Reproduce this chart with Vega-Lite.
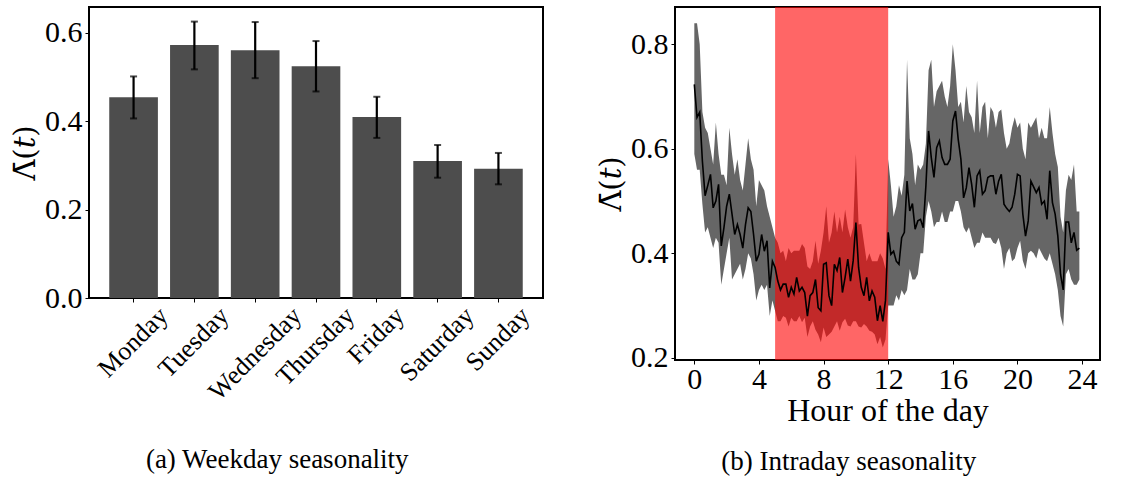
{
  "$schema": "https://vega.github.io/schema/vega-lite/v6.json",
  "padding": {"left": 10, "top": 6, "right": 5, "bottom": 0},
  "background": "white",
  "bounds": "flush",
  "spacing": 132,
  "config": {
    "font": "Liberation Serif",
    "view": {"stroke": "black", "strokeWidth": 2},
    "axis": {"grid": false, "domain": false, "tickColor": "black", "tickSize": 4, "tickWidth": 1,
      "labelColor": "black", "titleColor": "black", "labelFont": "Liberation Serif", "titleFont": "Liberation Serif",
      "titleFontWeight": "normal", "labelFontSize": 30, "titleFontSize": 32},
    "title": {"font": "Liberation Serif", "fontSize": 27, "fontWeight": "normal", "color": "black"}
  },
  "datasets": {
    "weekday": [
      {"day": "Monday", "v": 0.454, "lo": 0.406, "hi": 0.501},
      {"day": "Tuesday", "v": 0.572, "lo": 0.517, "hi": 0.625},
      {"day": "Wednesday", "v": 0.560, "lo": 0.497, "hi": 0.624},
      {"day": "Thursday", "v": 0.524, "lo": 0.467, "hi": 0.581},
      {"day": "Friday", "v": 0.409, "lo": 0.362, "hi": 0.455},
      {"day": "Saturday", "v": 0.310, "lo": 0.272, "hi": 0.346},
      {"day": "Sunday", "v": 0.292, "lo": 0.257, "hi": 0.328}
    ],
    "intraday": [
      {"h": 0, "m": 0.723, "lo": 0.59, "hi": 0.84},
      {"h": 0.1667, "m": 0.66, "lo": 0.56, "hi": 0.84},
      {"h": 0.3333, "m": 0.67, "lo": 0.56, "hi": 0.8},
      {"h": 0.5, "m": 0.576, "lo": 0.494, "hi": 0.67},
      {"h": 0.6667, "m": 0.51, "lo": 0.44, "hi": 0.64},
      {"h": 0.8333, "m": 0.53, "lo": 0.45, "hi": 0.63},
      {"h": 1.0, "m": 0.551, "lo": 0.43, "hi": 0.6},
      {"h": 1.1667, "m": 0.487, "lo": 0.41, "hi": 0.57},
      {"h": 1.3333, "m": 0.5, "lo": 0.43, "hi": 0.65},
      {"h": 1.5, "m": 0.532, "lo": 0.42, "hi": 0.59},
      {"h": 1.6667, "m": 0.414, "lo": 0.34, "hi": 0.55},
      {"h": 1.8333, "m": 0.449, "lo": 0.37, "hi": 0.55},
      {"h": 2.0, "m": 0.49, "lo": 0.4, "hi": 0.53},
      {"h": 2.1667, "m": 0.513, "lo": 0.43, "hi": 0.64},
      {"h": 2.3333, "m": 0.475, "lo": 0.35, "hi": 0.59},
      {"h": 2.5, "m": 0.436, "lo": 0.36, "hi": 0.55},
      {"h": 2.6667, "m": 0.455, "lo": 0.37, "hi": 0.58},
      {"h": 2.8333, "m": 0.436, "lo": 0.38, "hi": 0.54},
      {"h": 3.0, "m": 0.41, "lo": 0.35, "hi": 0.52},
      {"h": 3.1667, "m": 0.455, "lo": 0.37, "hi": 0.57},
      {"h": 3.3333, "m": 0.487, "lo": 0.4, "hi": 0.62},
      {"h": 3.5, "m": 0.48, "lo": 0.39, "hi": 0.58},
      {"h": 3.6667, "m": 0.436, "lo": 0.36, "hi": 0.56},
      {"h": 3.8333, "m": 0.385, "lo": 0.31, "hi": 0.49},
      {"h": 4.0, "m": 0.398, "lo": 0.33, "hi": 0.54},
      {"h": 4.1667, "m": 0.436, "lo": 0.34, "hi": 0.53},
      {"h": 4.3333, "m": 0.404, "lo": 0.33, "hi": 0.52},
      {"h": 4.5, "m": 0.424, "lo": 0.34, "hi": 0.49},
      {"h": 4.6667, "m": 0.334, "lo": 0.28, "hi": 0.47},
      {"h": 4.8333, "m": 0.385, "lo": 0.31, "hi": 0.45},
      {"h": 5.0, "m": 0.373, "lo": 0.29, "hi": 0.43},
      {"h": 5.1667, "m": 0.347, "lo": 0.27, "hi": 0.42},
      {"h": 5.3333, "m": 0.33, "lo": 0.27, "hi": 0.4},
      {"h": 5.5, "m": 0.341, "lo": 0.28, "hi": 0.405},
      {"h": 5.6667, "m": 0.341, "lo": 0.277, "hi": 0.385},
      {"h": 5.8333, "m": 0.316, "lo": 0.26, "hi": 0.41},
      {"h": 6.0, "m": 0.335, "lo": 0.277, "hi": 0.4},
      {"h": 6.1667, "m": 0.322, "lo": 0.27, "hi": 0.405},
      {"h": 6.3333, "m": 0.354, "lo": 0.27, "hi": 0.405},
      {"h": 6.5, "m": 0.328, "lo": 0.28, "hi": 0.405},
      {"h": 6.6667, "m": 0.335, "lo": 0.268, "hi": 0.418},
      {"h": 6.8333, "m": 0.325, "lo": 0.277, "hi": 0.41},
      {"h": 7.0, "m": 0.28, "lo": 0.24, "hi": 0.375},
      {"h": 7.1667, "m": 0.319, "lo": 0.26, "hi": 0.37},
      {"h": 7.3333, "m": 0.325, "lo": 0.27, "hi": 0.385},
      {"h": 7.5, "m": 0.35, "lo": 0.254, "hi": 0.424},
      {"h": 7.6667, "m": 0.296, "lo": 0.245, "hi": 0.38},
      {"h": 7.8333, "m": 0.29, "lo": 0.23, "hi": 0.405},
      {"h": 8.0, "m": 0.379, "lo": 0.258, "hi": 0.44},
      {"h": 8.1667, "m": 0.382, "lo": 0.24, "hi": 0.49},
      {"h": 8.3333, "m": 0.319, "lo": 0.245, "hi": 0.42},
      {"h": 8.5, "m": 0.3, "lo": 0.25, "hi": 0.44},
      {"h": 8.6667, "m": 0.379, "lo": 0.26, "hi": 0.48},
      {"h": 8.8333, "m": 0.367, "lo": 0.27, "hi": 0.44},
      {"h": 9.0, "m": 0.392, "lo": 0.252, "hi": 0.47},
      {"h": 9.1667, "m": 0.325, "lo": 0.268, "hi": 0.44},
      {"h": 9.3333, "m": 0.354, "lo": 0.275, "hi": 0.484},
      {"h": 9.5, "m": 0.389, "lo": 0.262, "hi": 0.45},
      {"h": 9.6667, "m": 0.347, "lo": 0.26, "hi": 0.43},
      {"h": 9.8333, "m": 0.386, "lo": 0.27, "hi": 0.45},
      {"h": 10.0, "m": 0.459, "lo": 0.27, "hi": 0.59},
      {"h": 10.1667, "m": 0.373, "lo": 0.26, "hi": 0.455},
      {"h": 10.3333, "m": 0.335, "lo": 0.258, "hi": 0.456},
      {"h": 10.5, "m": 0.319, "lo": 0.265, "hi": 0.42},
      {"h": 10.6667, "m": 0.354, "lo": 0.26, "hi": 0.385},
      {"h": 10.8333, "m": 0.309, "lo": 0.252, "hi": 0.4},
      {"h": 11.0, "m": 0.328, "lo": 0.25, "hi": 0.385},
      {"h": 11.1667, "m": 0.316, "lo": 0.245, "hi": 0.385},
      {"h": 11.3333, "m": 0.271, "lo": 0.226, "hi": 0.385},
      {"h": 11.5, "m": 0.3, "lo": 0.24, "hi": 0.4},
      {"h": 11.6667, "m": 0.27, "lo": 0.22, "hi": 0.39},
      {"h": 11.8333, "m": 0.31, "lo": 0.235, "hi": 0.37},
      {"h": 12.0, "m": 0.44, "lo": 0.3, "hi": 0.58},
      {"h": 12.1667, "m": 0.398, "lo": 0.3, "hi": 0.53},
      {"h": 12.3333, "m": 0.404, "lo": 0.3, "hi": 0.47},
      {"h": 12.5, "m": 0.385, "lo": 0.32, "hi": 0.49},
      {"h": 12.6667, "m": 0.379, "lo": 0.31, "hi": 0.53},
      {"h": 12.8333, "m": 0.43, "lo": 0.33, "hi": 0.51},
      {"h": 13.0, "m": 0.44, "lo": 0.32, "hi": 0.55},
      {"h": 13.1667, "m": 0.538, "lo": 0.33, "hi": 0.77},
      {"h": 13.3333, "m": 0.481, "lo": 0.37, "hi": 0.62},
      {"h": 13.5, "m": 0.495, "lo": 0.35, "hi": 0.59},
      {"h": 13.6667, "m": 0.446, "lo": 0.35, "hi": 0.53},
      {"h": 13.8333, "m": 0.462, "lo": 0.36, "hi": 0.57},
      {"h": 14.0, "m": 0.465, "lo": 0.4, "hi": 0.56},
      {"h": 14.1667, "m": 0.449, "lo": 0.4, "hi": 0.57},
      {"h": 14.3333, "m": 0.529, "lo": 0.47, "hi": 0.61},
      {"h": 14.5, "m": 0.634, "lo": 0.5, "hi": 0.75},
      {"h": 14.6667, "m": 0.583, "lo": 0.48, "hi": 0.77},
      {"h": 14.8333, "m": 0.545, "lo": 0.45, "hi": 0.68},
      {"h": 15.0, "m": 0.602, "lo": 0.46, "hi": 0.71},
      {"h": 15.1667, "m": 0.615, "lo": 0.46, "hi": 0.72},
      {"h": 15.3333, "m": 0.583, "lo": 0.48, "hi": 0.73},
      {"h": 15.5, "m": 0.57, "lo": 0.46, "hi": 0.7},
      {"h": 15.6667, "m": 0.57, "lo": 0.46, "hi": 0.68},
      {"h": 15.8333, "m": 0.58, "lo": 0.48, "hi": 0.72},
      {"h": 16.0, "m": 0.653, "lo": 0.48, "hi": 0.8},
      {"h": 16.1667, "m": 0.672, "lo": 0.5, "hi": 0.75},
      {"h": 16.3333, "m": 0.618, "lo": 0.5, "hi": 0.68},
      {"h": 16.5, "m": 0.58, "lo": 0.48, "hi": 0.69},
      {"h": 16.6667, "m": 0.506, "lo": 0.45, "hi": 0.65},
      {"h": 16.8333, "m": 0.525, "lo": 0.44, "hi": 0.72},
      {"h": 17.0, "m": 0.564, "lo": 0.45, "hi": 0.67},
      {"h": 17.1667, "m": 0.532, "lo": 0.43, "hi": 0.66},
      {"h": 17.3333, "m": 0.488, "lo": 0.41, "hi": 0.63},
      {"h": 17.5, "m": 0.548, "lo": 0.42, "hi": 0.73},
      {"h": 17.6667, "m": 0.558, "lo": 0.42, "hi": 0.63},
      {"h": 17.8333, "m": 0.513, "lo": 0.44, "hi": 0.68},
      {"h": 18.0, "m": 0.52, "lo": 0.43, "hi": 0.69},
      {"h": 18.1667, "m": 0.545, "lo": 0.43, "hi": 0.62},
      {"h": 18.3333, "m": 0.548, "lo": 0.43, "hi": 0.68},
      {"h": 18.5, "m": 0.548, "lo": 0.42, "hi": 0.67},
      {"h": 18.6667, "m": 0.513, "lo": 0.418, "hi": 0.64},
      {"h": 18.8333, "m": 0.538, "lo": 0.43, "hi": 0.67},
      {"h": 19.0, "m": 0.551, "lo": 0.41, "hi": 0.675},
      {"h": 19.1667, "m": 0.494, "lo": 0.37, "hi": 0.63},
      {"h": 19.3333, "m": 0.486, "lo": 0.4, "hi": 0.6},
      {"h": 19.5, "m": 0.48, "lo": 0.41, "hi": 0.61},
      {"h": 19.6667, "m": 0.488, "lo": 0.385, "hi": 0.64},
      {"h": 19.8333, "m": 0.513, "lo": 0.39, "hi": 0.66},
      {"h": 20.0, "m": 0.551, "lo": 0.41, "hi": 0.64},
      {"h": 20.1667, "m": 0.548, "lo": 0.424, "hi": 0.65},
      {"h": 20.3333, "m": 0.475, "lo": 0.386, "hi": 0.6},
      {"h": 20.5, "m": 0.433, "lo": 0.37, "hi": 0.58},
      {"h": 20.6667, "m": 0.462, "lo": 0.4, "hi": 0.65},
      {"h": 20.8333, "m": 0.538, "lo": 0.405, "hi": 0.64},
      {"h": 21.0, "m": 0.527, "lo": 0.4, "hi": 0.65},
      {"h": 21.1667, "m": 0.516, "lo": 0.39, "hi": 0.66},
      {"h": 21.3333, "m": 0.526, "lo": 0.41, "hi": 0.62},
      {"h": 21.5, "m": 0.494, "lo": 0.4, "hi": 0.64},
      {"h": 21.6667, "m": 0.5, "lo": 0.39, "hi": 0.62},
      {"h": 21.8333, "m": 0.465, "lo": 0.385, "hi": 0.62},
      {"h": 22.0, "m": 0.558, "lo": 0.4, "hi": 0.68},
      {"h": 22.1667, "m": 0.497, "lo": 0.38, "hi": 0.63},
      {"h": 22.3333, "m": 0.475, "lo": 0.36, "hi": 0.59},
      {"h": 22.5, "m": 0.433, "lo": 0.33, "hi": 0.565},
      {"h": 22.6667, "m": 0.36, "lo": 0.28, "hi": 0.47},
      {"h": 22.8333, "m": 0.33, "lo": 0.26, "hi": 0.44},
      {"h": 23.0, "m": 0.46, "lo": 0.36, "hi": 0.52},
      {"h": 23.1667, "m": 0.46, "lo": 0.37, "hi": 0.55},
      {"h": 23.3333, "m": 0.42, "lo": 0.35, "hi": 0.54},
      {"h": 23.5, "m": 0.44, "lo": 0.34, "hi": 0.57},
      {"h": 23.6667, "m": 0.406, "lo": 0.34, "hi": 0.48},
      {"h": 23.8333, "m": 0.41, "lo": 0.35, "hi": 0.48}
    ]
  },
  "hconcat": [
    {
      "width": 454,
      "height": 291,
      "title": {"text": "(a) Weekday seasonality", "orient": "bottom", "anchor": "middle", "frame": "bounds", "offset": 42},
      "data": {"name": "weekday"},
      "encoding": {
        "x": {
          "field": "day", "type": "nominal", "sort": null,
          "scale": {"paddingInner": 0.2, "paddingOuter": 0.333},
          "axis": {
            "title": null, "labelAngle": -45, "labelAlign": "right", "labelBaseline": "top",
            "labelFontSize": 26, "labelPadding": 0,
            "labelOffset": {
              "condition": [
                {"test": "datum.value === 'Monday'", "value": 21},
                {"test": "datum.value === 'Tuesday'", "value": 21},
                {"test": "datum.value === 'Wednesday'", "value": 33},
                {"test": "datum.value === 'Thursday'", "value": 25},
                {"test": "datum.value === 'Friday'", "value": 14},
                {"test": "datum.value === 'Saturday'", "value": 23}
              ],
              "value": 18
            }
          }
        }
      },
      "layer": [
        {
          "mark": {"type": "bar", "color": "#4d4d4d"},
          "encoding": {
            "y": {"field": "v", "type": "quantitative", "title": "Λ̄(𝑡)",
              "scale": {"domain": [0, 0.658], "nice": false},
              "axis": {"values": [0, 0.2, 0.4, 0.6], "format": ".1f", "titlePadding": 4, "labelPadding": 3, "titleFont": "DejaVu Serif", "titleFontSize": 29}}
          }
        },
        {
          "mark": {"type": "rule", "color": "black", "strokeWidth": 2.2},
          "encoding": {
            "y": {"field": "lo", "type": "quantitative", "title": "Λ̄(𝑡)"},
            "y2": {"field": "hi"}
          }
        },
        {
          "mark": {"type": "tick", "color": "black", "thickness": 2, "size": 7},
          "encoding": {"y": {"field": "lo", "type": "quantitative", "title": "Λ̄(𝑡)"}}
        },
        {
          "mark": {"type": "tick", "color": "black", "thickness": 2, "size": 7},
          "encoding": {"y": {"field": "hi", "type": "quantitative", "title": "Λ̄(𝑡)"}}
        }
      ]
    },
    {
      "width": 425,
      "height": 353,
      "title": {"text": "(b) Intraday seasonality", "orient": "bottom", "anchor": "middle", "frame": "bounds", "offset": 23},
      "layer": [
        {
          "data": {"name": "intraday"},
          "mark": {"type": "area", "color": "#666666", "opacity": 1},
          "encoding": {
            "x": {"field": "h", "type": "quantitative", "title": "Hour of the day",
              "scale": {"domain": [-1.196, 25.11], "nice": false, "zero": false},
              "axis": {"values": [0, 4, 8, 12, 16, 20, 24], "format": "d", "labelFlush": false, "labelPadding": 0, "titlePadding": 1}},
            "y": {"field": "lo", "type": "quantitative", "title": "Λ̄(𝑡)",
              "scale": {"domain": [0.196, 0.871], "nice": false, "zero": false},
              "axis": {"values": [0.2, 0.4, 0.6, 0.8], "format": ".1f", "titlePadding": 4, "labelPadding": 3, "titleFont": "DejaVu Serif", "titleFontSize": 29}},
            "y2": {"field": "hi"}
          }
        },
        {
          "data": {"values": [{"start": 5, "end": 12}]},
          "mark": {"type": "rect", "color": "#ff0000", "opacity": 0.6},
          "encoding": {
            "x": {"field": "start", "type": "quantitative", "title": "Hour of the day"},
            "x2": {"field": "end"}
          }
        },
        {
          "data": {"name": "intraday"},
          "mark": {"type": "line", "color": "black", "strokeWidth": 1.6},
          "encoding": {
            "x": {"field": "h", "type": "quantitative", "title": "Hour of the day"},
            "y": {"field": "m", "type": "quantitative", "title": "Λ̄(𝑡)"}
          }
        }
      ]
    }
  ]
}
